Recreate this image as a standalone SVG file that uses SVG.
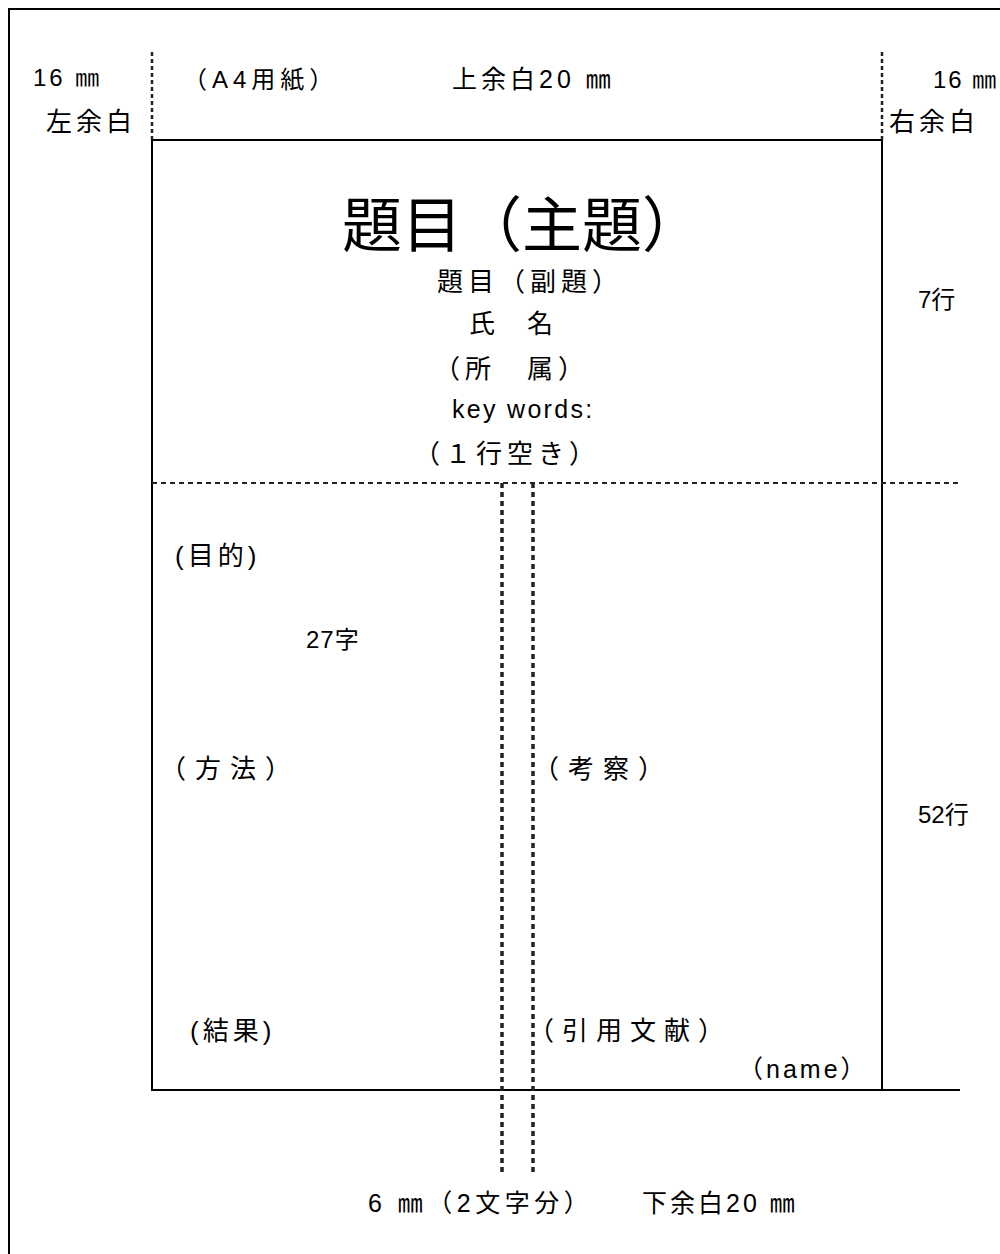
<svg xmlns="http://www.w3.org/2000/svg" width="1000" height="1254" viewBox="0 0 1000 1254">
<style>
text{font-family:"Liberation Sans","Noto Sans CJK JP",sans-serif;fill:#000;font-size:24px}
.frame{fill:none;stroke:#000;stroke-width:2}
.dashh{fill:none;stroke:#222;stroke-width:2;stroke-dasharray:5 4}
.dashv{fill:none;stroke:#222;stroke-width:3.5;stroke-dasharray:5 4}
.dasht{fill:none;stroke:#222;stroke-width:2.5;stroke-dasharray:4 3}
.cjk{letter-spacing:4px}
.sub{font-size:26px;letter-spacing:3px}
.body{font-size:26px}
</style>
<rect width="1000" height="1254" fill="#fff"/>
<g id="paper">
<path class="frame" d="M9,1254 V9 H1000"/>
</g>
<g id="text-area">
<path class="frame" d="M152,140 H882 V1090 M152,140 V1090 H960"/>
</g>
<g id="connectors">
<line class="dasht" x1="152" y1="52" x2="152" y2="140"/>
<line class="dasht" x1="882" y1="52" x2="882" y2="140"/>
<line class="dashh" x1="152" y1="483" x2="960" y2="483"/>
<line class="dashv" x1="502" y1="483" x2="502" y2="1176"/>
<line class="dashv" x1="533" y1="483" x2="533" y2="1176"/>
</g>
<g id="margin-left">
<text x="33" y="86" style="letter-spacing:3px">16 ㎜</text>
<text x="46" y="131" class="cjk" style="font-size:26px">左余白</text>
</g>
<g id="paper-label"><text x="183" y="88" style="letter-spacing:5px">（A4用紙）</text></g>
<g id="margin-top"><text x="452" y="88" class="cjk" style="font-size:25px">上余白20 ㎜</text></g>
<g id="margin-right">
<text x="933" y="88" style="letter-spacing:2px">16 ㎜</text>
<text x="889" y="131" class="cjk" style="font-size:26px">右余白</text>
</g>
<g id="header">
<text x="342" y="247" style="font-size:60px">題目（主題）</text>
<text x="437" y="291" class="sub" style="letter-spacing:5px">題目（副題）</text>
<text x="469" y="333" class="sub">氏　名</text>
<text x="434" y="378" class="sub" style="letter-spacing:5px">（所　属）</text>
<text x="452" y="418" style="font-size:25px;letter-spacing:2.3px">key words:</text>
<text x="414" y="463" class="sub" style="letter-spacing:5px">（１行空き）</text>
</g>
<g id="lines-header"><text x="918" y="308">7行</text></g>
<g id="lines-body"><text x="918" y="823">52行</text></g>
<g id="purpose"><text x="175" y="565" class="body" style="letter-spacing:4px">(目的)</text></g>
<g id="chars"><text x="306" y="648" style="letter-spacing:1px">27字</text></g>
<g id="method"><text x="160" y="778" class="body" style="letter-spacing:9px">（方法）</text></g>
<g id="discussion"><text x="533" y="778" class="body" style="letter-spacing:9px">（考察）</text></g>
<g id="result"><text x="190" y="1040" class="body" style="letter-spacing:4px">(結果)</text></g>
<g id="references"><text x="528" y="1040" class="body" style="letter-spacing:8px">（引用文献）</text></g>
<g id="name"><text x="738" y="1078" style="font-size:25px;letter-spacing:3px">（name）</text></g>
<g id="gutter"><text x="368" y="1212" style="font-size:25px;letter-spacing:4.5px">6 ㎜（2文字分）</text></g>
<g id="margin-bottom"><text x="642" y="1212" style="font-size:25px;letter-spacing:3px">下余白20 ㎜</text></g>
</svg>
